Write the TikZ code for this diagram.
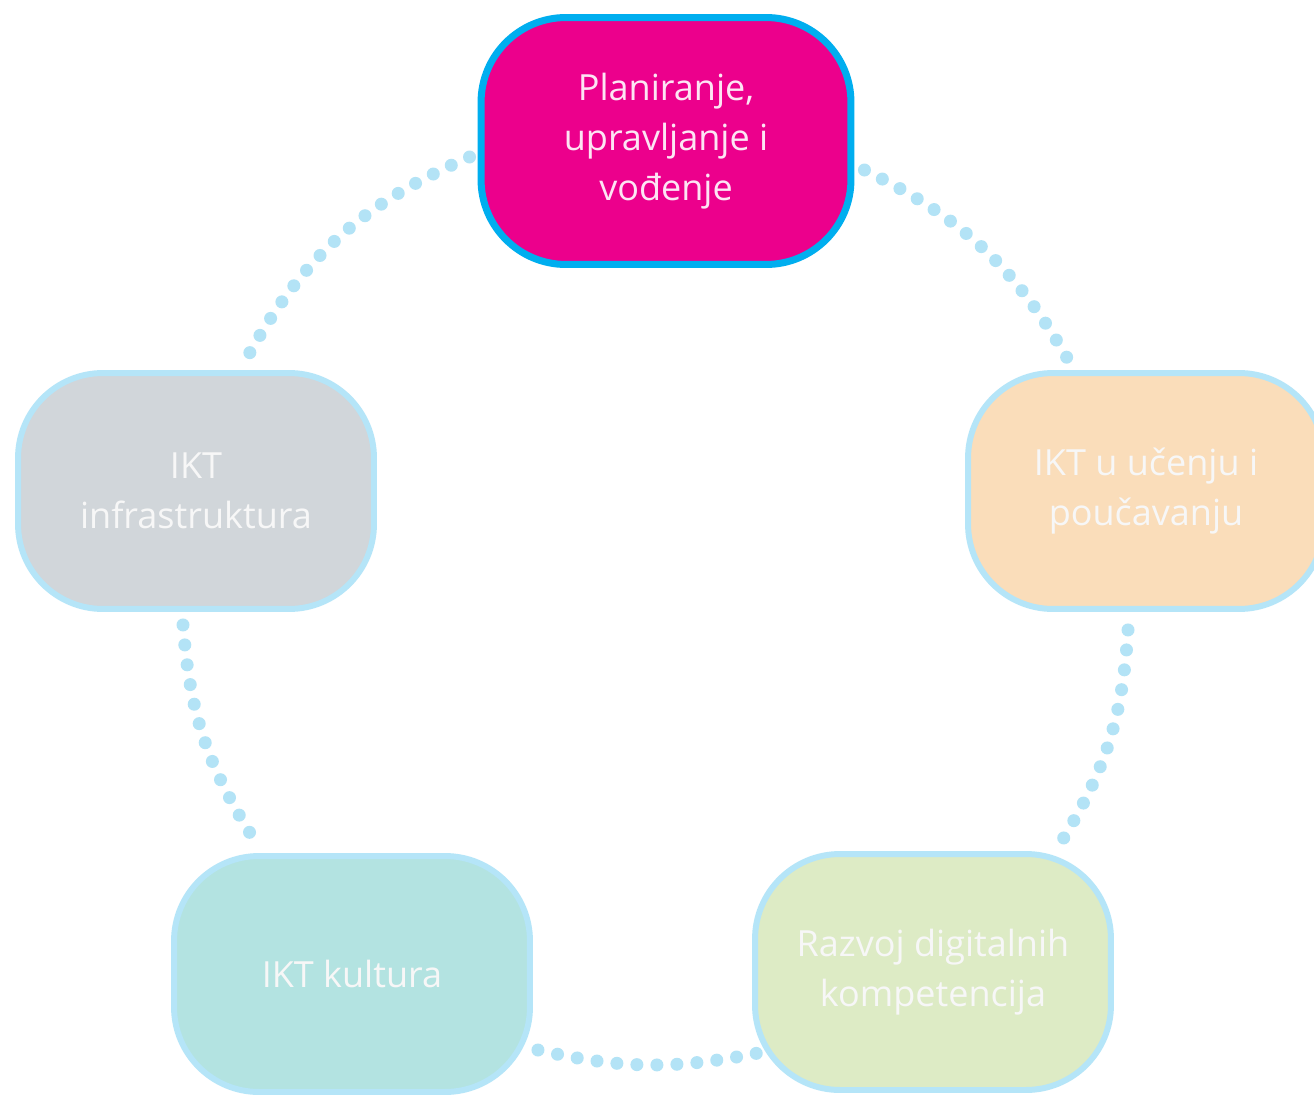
\documentclass[tikz,border=0pt]{standalone}
\usepackage{fontspec}
\setmainfont{Open Sans}
\IfFontExistsTF{Open Sans SemiBold}{\newfontfamily\boxfont{Open Sans SemiBold}}{\newfontfamily\boxfont{Open Sans}}
\usetikzlibrary{calc}
\definecolor{planmagenta}{HTML}{EC008C}
\definecolor{rimblue}{HTML}{00AEEF}
\definecolor{lightrim}{HTML}{B5E5F8}
\definecolor{dotblue}{HTML}{B3E3F6}
\definecolor{infragray}{HTML}{D1D6DA}
\definecolor{ucenjepeach}{HTML}{FADDBA}
\definecolor{kulturateal}{HTML}{B3E3E1}
\definecolor{razvojgreen}{HTML}{DDEBC5}
\begin{document}
\begin{tikzpicture}[x=0.02cm,y=-0.02cm,
    box node/.style={rectangle,rounded corners=1.7cm,draw=lightrim,line width=3.4pt,minimum width=7.12cm,minimum height=4.72cm,align=center,font=\boxfont\fontsize{20.5}{28.5}\selectfont,text=white!97!black},
    main node/.style={box node,fill=planmagenta,draw=rimblue,line width=4pt,minimum width=7.4cm,minimum height=4.94cm,text=white!90!planmagenta},
    dot line/.style={-,draw=dotblue,line width=7.4pt,line cap=round,dash pattern=on 0pt off 11.4pt}]
   \fill[white] (0,0) rectangle (1314,1095);
   \useasboundingbox (0,0) rectangle (1314,1095);
   \node[main node] (plan) at (666,141) {Planiranje,\\upravljanje i\\vođenje};
   \node[box node,fill=infragray] (infra) at (196,491) {IKT\\infrastruktura};
   \node[box node,fill=ucenjepeach] (ucenje) at (1146,491) {IKT u učenju i\\poučavanju};
   \node[box node,fill=kulturateal] (kultura) at (352,974) {IKT kultura};
   \node[box node,fill=razvojgreen] (razvoj) at (933,972) {Razvoj digitalnih\\kompetencija};
   % dotted ring
   \path[dot line] ($(plan.west)+(-8,16)$) edge[bend right=19] ($(infra.north)+(47,-5)$);
   \path[dot line] ($(plan.east)+(10,29)$) edge[bend left=17] ($(ucenje.north)+(-76,-7)$);
   \path[dot line] ($(ucenje.south)+(-18,18)$) edge[bend left=14] ($(razvoj.north)+(127,-7)$);
   \path[dot line] ($(infra.south)+(-13,13)$) edge[bend right=14] ($(kultura.north)+(-97,-12)$);
   \path[dot line] ($(kultura.east)+(5,76)$) edge[bend right=12] ($(razvoj.west)+(6,81)$);
\end{tikzpicture}
\end{document}
